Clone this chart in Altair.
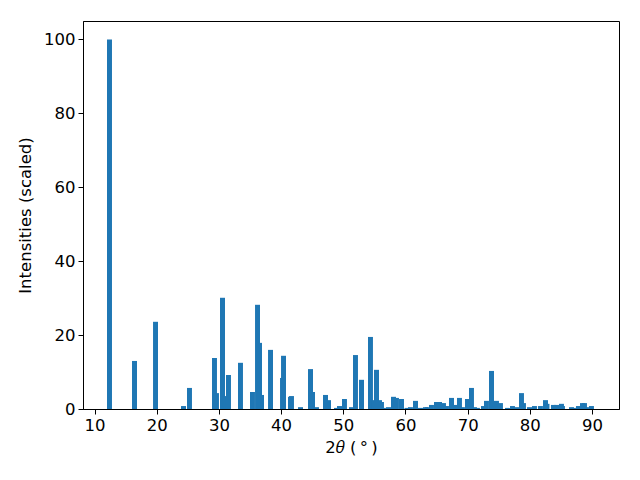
import altair as alt
import pandas as pd

two_theta = [
    12.41, 16.43, 19.81, 24.31, 25.27, 29.29, 29.61, 30.58, 30.98, 31.54,
    33.47, 35.40, 36.21, 36.53, 36.85, 38.30, 40.23, 40.39, 41.51, 41.67,
    43.12, 44.73, 45.05, 45.69, 47.14, 47.62, 48.91, 49.39, 50.19, 51.32,
    51.96, 52.93, 54.37, 54.94, 55.34, 55.82, 56.14, 56.46, 57.27, 58.07,
    58.55, 59.36, 60.24, 60.80, 61.61, 62.41, 63.22, 63.54, 64.18, 64.98,
    65.47, 66.11, 66.59, 67.40, 67.88, 68.68, 69.16, 69.97, 70.61, 71.09,
    71.57, 72.54, 73.02, 73.83, 74.63, 75.27, 76.40, 77.20, 77.85, 78.65,
    78.97, 79.94, 80.74, 81.70, 82.51, 82.75, 83.79, 84.28, 85.08, 85.24,
    86.69, 87.01, 87.81, 88.46, 88.78, 89.10, 89.90,
]
intensity = [
    100.0, 13.0, 23.6, 0.8, 5.7, 13.8, 4.3, 30.1, 3.5, 9.2,
    12.5, 4.6, 28.2, 17.9, 3.8, 16.0, 8.4, 14.4, 3.3, 3.5,
    0.5, 10.8, 4.6, 0.5, 3.8, 2.4, 0.3, 0.8, 2.7, 0.5,
    14.6, 7.9, 19.5, 2.4, 10.6, 2.4, 1.9, 0.3, 0.5, 3.3,
    3.0, 2.7, 0.3, 0.5, 2.2, 0.3, 0.5, 0.5, 1.1, 1.9,
    1.9, 1.6, 0.8, 3.0, 1.1, 3.0, 0.5, 2.7, 5.7, 0.5,
    0.3, 0.8, 2.2, 10.3, 2.2, 1.6, 0.3, 0.8, 0.5, 4.3,
    1.6, 0.5, 0.8, 0.8, 2.4, 1.4, 1.1, 1.1, 1.4, 0.8,
    0.5, 0.3, 0.8, 1.6, 1.6, 0.5, 0.8,
]
bar_width = 0.8
x_ticks = [10, 20, 30, 40, 50, 60, 70, 80, 90]
y_ticks = [0, 20, 40, 60, 80, 100]

df = pd.DataFrame({"tt": two_theta, "I": intensity})

font = "DejaVu Sans"

chart = (
    alt.Chart(df)
    .transform_calculate(
        x0=f"datum.tt - {bar_width/2}",
        x1=f"datum.tt + {bar_width/2}",
        base="0",
    )
    .mark_bar(color="#1f77b4", opacity=1)
    .encode(
        x=alt.X(
            "x0:Q",
            scale=alt.Scale(domain=[8.15, 94.33], nice=False, zero=False),
            axis=alt.Axis(
                values=x_ticks,
                title="2\U0001D703 (\u2009\u00b0\u2009)",
                format="d",
                grid=False,
                tickSize=5,
                labelPadding=3,
                titlePadding=6,
            ),
        ),
        x2="x1:Q",
        y=alt.Y(
            "I:Q",
            scale=alt.Scale(domain=[0, 105], nice=False, zero=True),
            axis=alt.Axis(
                values=y_ticks,
                title="Intensities (scaled)",
                format="d",
                grid=False,
                tickSize=5,
                labelPadding=3,
                titlePadding=10,
            ),
        ),
        y2="base:Q",
    )
    .properties(
        width=536,
        height=388,
        padding={"left": 75, "top": 13, "right": 13, "bottom": 63},
        autosize=alt.AutoSizeParams(type="none"),
    )
    .configure_view(stroke="black", strokeWidth=1)
    .configure_axis(
        domainColor="black",
        tickColor="black",
        labelColor="black",
        titleColor="black",
        labelFont=font,
        titleFont=font,
        labelFontSize=16.5,
        titleFontSize=16.5,
        titleFontWeight="normal",
    )
)

chart.save("out.html", embed_options={"renderer": "svg", "actions": False})
